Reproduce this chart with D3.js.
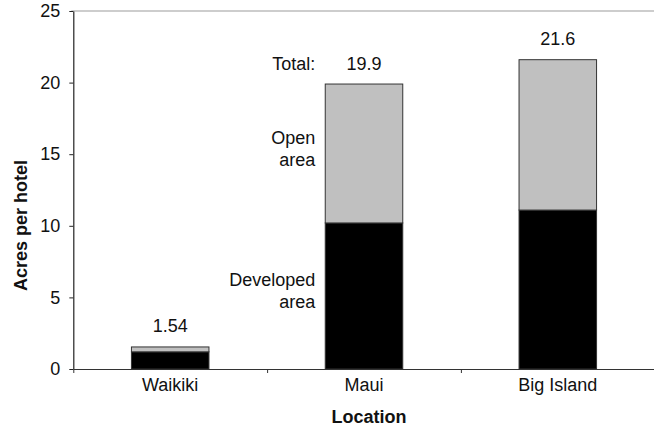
<!DOCTYPE html>
<html>
<head>
<meta charset="utf-8">
<script src="https://cdn.jsdelivr.net/npm/d3@7"></script>
<style>
  body { margin: 0; background: #fff; }
  text { font-family: "Liberation Sans", Arial, Helvetica, sans-serif; }
</style>
</head>
<body>
<div id="chart"></div>
<script>
var locations = ["Waikiki", "Maui", "Big Island"];
var developed = [1.2, 10.2, 11.1];
var openArea = [0.34, 9.7, 10.5];
var totalLabels = ["1.54", "19.9", "21.6"];
var yTicks = [0, 5, 10, 15, 20, 25];

var width = 654;
var height = 427;
var plot = {left: 73.3, right: 654.7, top: 11, bottom: 369};

var svg = d3.select("#chart")
  .append("svg")
    .attr("width", width)
    .attr("height", height);

var x = d3.scaleBand()
  .domain(locations)
  .range([plot.left, plot.right])
  .paddingInner(0.6)
  .paddingOuter(0.3);

var y = d3.scaleLinear()
  .domain([0, 25])
  .range([plot.bottom, plot.top]);

// gray line along the top of the plot area
svg.append("line")
  .attr("x1", plot.left - 2)
  .attr("x2", width)
  .attr("y1", y(25))
  .attr("y2", y(25))
  .style("stroke", "#bdbdbd")
  .style("stroke-width", 1.5);

// stacked bars
var rows = locations.map(function (d, i) {
  return {loc: d, dev: developed[i], open: openArea[i], label: totalLabels[i]};
});

var bars = svg.append("g");

bars.selectAll("rect.dev")
  .data(rows)
  .enter()
  .append("rect")
    .attr("class", "dev")
    .attr("x", function (d) { return x(d.loc); })
    .attr("width", x.bandwidth())
    .attr("y", function (d) { return y(d.dev); })
    .attr("height", function (d) { return y(0) - y(d.dev); })
    .style("fill", "#000")
    .style("stroke", "#333")
    .style("stroke-width", 1);

bars.selectAll("rect.open")
  .data(rows)
  .enter()
  .append("rect")
    .attr("class", "open")
    .attr("x", function (d) { return x(d.loc); })
    .attr("width", x.bandwidth())
    .attr("y", function (d) { return y(d.dev + d.open); })
    .attr("height", function (d) { return y(d.dev) - y(d.dev + d.open); })
    .style("fill", "#c0c0c0")
    .style("stroke", "#333")
    .style("stroke-width", 1);

// totals above the bars
bars.selectAll("text.total")
  .data(rows)
  .enter()
  .append("text")
    .attr("class", "total")
    .attr("x", function (d) { return x(d.loc) + x.bandwidth() / 2; })
    .attr("y", function (d) { return y(d.dev + d.open) - 14.5; })
    .attr("text-anchor", "middle")
    .style("font-size", "18px")
    .style("fill", "#111")
    .text(function (d) { return d.label; });

// annotations beside the Maui bar
var maui = rows[1];
var labelX = x(maui.loc) - 10;

svg.append("text")
  .attr("x", labelX)
  .attr("y", y(maui.dev + maui.open) - 14.5)
  .attr("text-anchor", "end")
  .style("font-size", "18px")
  .style("fill", "#111")
  .text("Total:");

function twoLines(lines, mid) {
  var t = svg.append("text")
    .attr("text-anchor", "end")
    .style("font-size", "18px")
    .style("fill", "#111");
  t.append("tspan").attr("x", labelX).attr("y", mid - 9).text(lines[0]);
  t.append("tspan").attr("x", labelX).attr("y", mid + 13).text(lines[1]);
}
twoLines(["Open", "area"], y(maui.dev + maui.open / 2));
twoLines(["Developed", "area"], y(maui.dev / 2) - 1);

// y axis
var yAxis = svg.append("g")
  .attr("transform", "translate(" + plot.left + ",0)")
  .call(d3.axisLeft(y).tickValues(yTicks).tickSize(4).tickPadding(9).tickSizeOuter(0));
yAxis.select(".domain").style("stroke", "#222").style("stroke-width", 1.2);
yAxis.selectAll(".tick line").style("stroke", "#222");
yAxis.selectAll("text").style("font-size", "18px").style("fill", "#111")
  .style("font-family", "'Liberation Sans', Arial, sans-serif");

// x axis: labels at band centres, ticks at band boundaries
var xAxis = svg.append("g")
  .attr("transform", "translate(0," + plot.bottom + ")")
  .call(d3.axisBottom(x).tickSize(0).tickPadding(9).tickSizeOuter(0));
xAxis.select(".domain").style("stroke", "#333").style("stroke-width", 1.2);
xAxis.selectAll("text").style("font-size", "18px").style("fill", "#111")
  .style("font-family", "'Liberation Sans', Arial, sans-serif");

var xEdges = d3.scaleLinear().domain([0, locations.length]).range([plot.left, plot.right]);
svg.append("g")
  .attr("transform", "translate(0," + plot.bottom + ")")
  .call(d3.axisBottom(xEdges).tickValues(d3.range(locations.length + 1)).tickSize(4).tickFormat(""))
  .call(function (g) { g.select(".domain").remove(); })
  .selectAll(".tick line").style("stroke", "#333");

// axis titles
svg.append("text")
  .attr("x", 369)
  .attr("y", 423)
  .attr("text-anchor", "middle")
  .style("font-size", "18px")
  .style("font-weight", "bold")
  .style("fill", "#111")
  .text("Location");

svg.append("text")
  .attr("transform", "rotate(-90)")
  .attr("x", -225.5)
  .attr("y", 27)
  .attr("text-anchor", "middle")
  .style("font-size", "18px")
  .style("font-weight", "bold")
  .style("fill", "#111")
  .text("Acres per hotel");
</script>
</body>
</html>
